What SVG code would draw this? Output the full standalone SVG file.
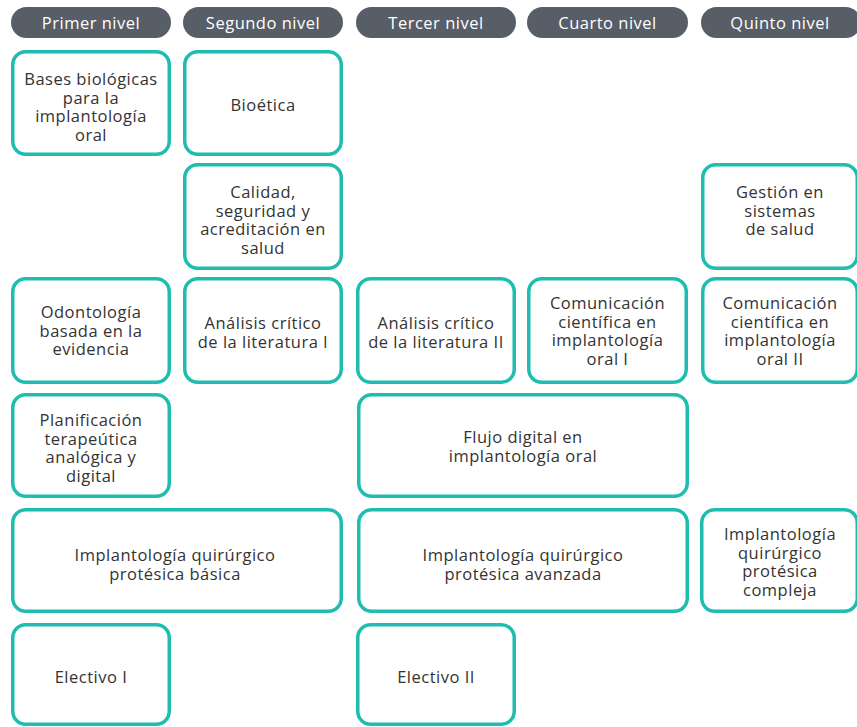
<svg xmlns="http://www.w3.org/2000/svg" width="857" height="727" viewBox="0 0 857 727">
<style>
.hd{fill:#575e67}
.ht{fill:#ffffff;font-family:"Open Sans","Noto Sans",sans-serif;font-size:16.5px;letter-spacing:0.5px;text-anchor:middle}
.bx{fill:#ffffff;stroke:#1fbcb0;stroke-width:3.5}
.t{fill:#333333;font-family:"Open Sans","Noto Sans",sans-serif;font-size:16.5px;letter-spacing:0.5px;text-anchor:middle}
</style>
<rect width="857" height="727" fill="#ffffff"/>
<g id="headers">
<g id="h1"><rect class="hd" x="11" y="7" width="160" height="31" rx="15.5"/><text class="ht" x="91" y="29">Primer nivel</text></g>
<g id="h2"><rect class="hd" x="183" y="7" width="160" height="31" rx="15.5"/><text class="ht" x="263" y="29">Segundo nivel</text></g>
<g id="h3"><rect class="hd" x="356" y="7" width="160" height="31" rx="15.5"/><text class="ht" x="436" y="29">Tercer nivel</text></g>
<g id="h4"><rect class="hd" x="527" y="7" width="161" height="31" rx="15.5"/><text class="ht" x="607.5" y="29">Cuarto nivel</text></g>
<g id="h5"><rect class="hd" x="701" y="7" width="160" height="31" rx="15.5"/><text class="ht" x="780" y="29">Quinto nivel</text></g>
</g>
<g id="bases"><rect class="bx" x="12.75" y="51.75" width="156.5" height="102.5" rx="13"/>
<text class="t" x="91"><tspan x="91" y="85">Bases biológicas</tspan><tspan x="91" y="103.5">para la</tspan><tspan x="91" y="122">implantología</tspan><tspan x="91" y="140.5">oral</tspan></text></g>
<g id="bioetica"><rect class="bx" x="184.75" y="51.75" width="156.5" height="102.5" rx="13"/>
<text class="t" x="263" y="110.5">Bioética</text></g>
<g id="calidad"><rect class="bx" x="184.75" y="164.75" width="156.5" height="103.5" rx="13"/>
<text class="t"><tspan x="263" y="198">Calidad,</tspan><tspan x="263" y="216.5">seguridad y</tspan><tspan x="263" y="235">acreditación en</tspan><tspan x="263" y="253.5">salud</tspan></text></g>
<g id="gestion"><rect class="bx" x="702.75" y="164.75" width="154.5" height="103.5" rx="13"/>
<text class="t"><tspan x="780" y="198">Gestión en</tspan><tspan x="780" y="216.5">sistemas</tspan><tspan x="780" y="235">de salud</tspan></text></g>
<g id="odontologia"><rect class="bx" x="12.75" y="278.75" width="156.5" height="103.5" rx="13"/>
<text class="t"><tspan x="91" y="318">Odontología</tspan><tspan x="91" y="336.5">basada en la</tspan><tspan x="91" y="355">evidencia</tspan></text></g>
<g id="analisis1"><rect class="bx" x="184.75" y="278.75" width="156.5" height="103.5" rx="13"/>
<text class="t"><tspan x="263" y="329">Análisis crítico</tspan><tspan x="263" y="347.5">de la literatura I</tspan></text></g>
<g id="analisis2"><rect class="bx" x="357.75" y="278.75" width="156.5" height="103.5" rx="13"/>
<text class="t"><tspan x="436" y="329">Análisis crítico</tspan><tspan x="436" y="347.5">de la literatura II</tspan></text></g>
<g id="comunicacion1"><rect class="bx" x="528.75" y="278.75" width="157.5" height="103.5" rx="13"/>
<text class="t"><tspan x="607.5" y="309">Comunicación</tspan><tspan x="607.5" y="327.5">científica en</tspan><tspan x="607.5" y="346">implantología</tspan><tspan x="607.5" y="364.5">oral I</tspan></text></g>
<g id="comunicacion2"><rect class="bx" x="702.75" y="278.75" width="154.5" height="103.5" rx="13"/>
<text class="t"><tspan x="780" y="309">Comunicación</tspan><tspan x="780" y="327.5">científica en</tspan><tspan x="780" y="346">implantología</tspan><tspan x="780" y="364.5">oral II</tspan></text></g>
<g id="planificacion"><rect class="bx" x="12.75" y="394.75" width="156.5" height="101.5" rx="13"/>
<text class="t"><tspan x="91" y="426">Planificación</tspan><tspan x="91" y="444.5">terapeútica</tspan><tspan x="91" y="463">analógica y</tspan><tspan x="91" y="481.5">digital</tspan></text></g>
<g id="flujo"><rect class="bx" x="358.75" y="394.75" width="328.5" height="101.5" rx="13"/>
<text class="t"><tspan x="523" y="443">Flujo digital en</tspan><tspan x="523" y="461.5">implantología oral</tspan></text></g>
<g id="basica"><rect class="bx" x="12.75" y="509.75" width="328.5" height="101.5" rx="13"/>
<text class="t"><tspan x="175" y="561">Implantología quirúrgico</tspan><tspan x="175" y="579.5">protésica básica</tspan></text></g>
<g id="avanzada"><rect class="bx" x="358.75" y="509.75" width="328.5" height="101.5" rx="13"/>
<text class="t"><tspan x="523" y="561">Implantología quirúrgico</tspan><tspan x="523" y="579.5">protésica avanzada</tspan></text></g>
<g id="compleja"><rect class="bx" x="701.75" y="509.75" width="155.5" height="101.5" rx="13"/>
<text class="t"><tspan x="780" y="540">Implantología</tspan><tspan x="780" y="558.5">quirúrgico</tspan><tspan x="780" y="577">protésica</tspan><tspan x="780" y="595.5">compleja</tspan></text></g>
<g id="electivo1"><rect class="bx" x="12.75" y="624.75" width="156.5" height="99.5" rx="13"/>
<text class="t" x="91" y="683">Electivo I</text></g>
<g id="electivo2"><rect class="bx" x="357.75" y="624.75" width="156.5" height="99.5" rx="13"/>
<text class="t" x="436" y="683">Electivo II</text></g>
<g id="connectors"></g>
</svg>
